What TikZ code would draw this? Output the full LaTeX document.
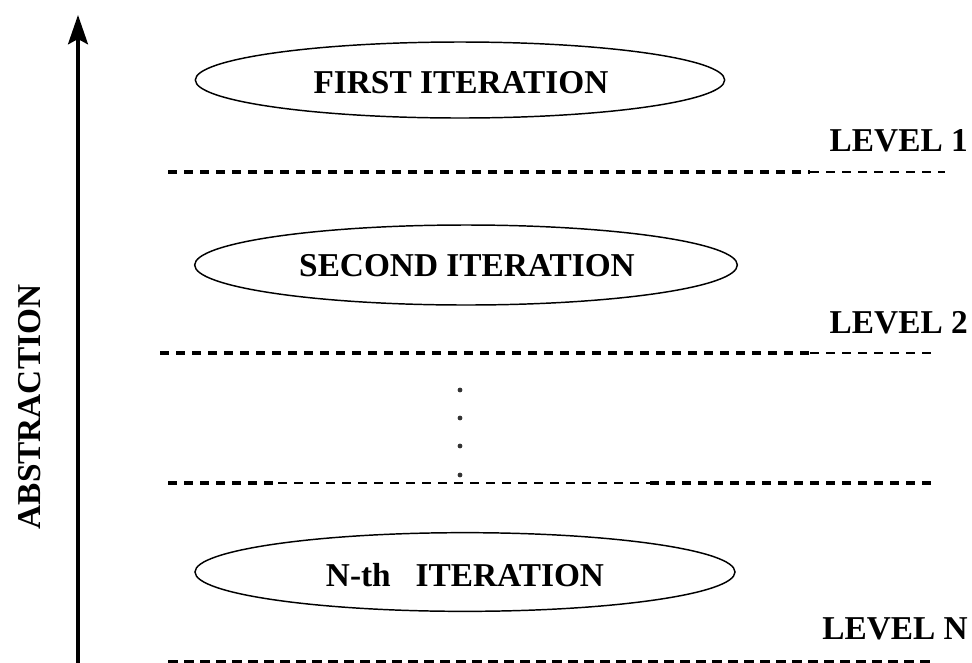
\documentclass[tikz,border=0pt]{standalone}
\usepackage{fontspec}
\setmainfont{Liberation Serif}
\usetikzlibrary{shapes.geometric,arrows.meta}
\begin{document}
\begin{tikzpicture}[x=0.75pt,y=-0.75pt,
  lbl/.style={font=\fontsize{25}{28}\selectfont\bfseries, inner sep=0pt},
  iter/.style={ellipse, draw, line width=1.1pt, inner sep=0pt},
  itext/.style={font=\fontsize{25}{28}\selectfont\bfseries, inner sep=0pt},
  heavydash/.style={line width=3.3pt, dash pattern=on 7pt off 5pt},
  lightdash/.style={line width=1.5pt, dash pattern=on 6.5pt off 5.5pt},
  bottomdash/.style={line width=2.6pt, dash pattern=on 7.5pt off 4.5pt},
  dot/.style={circle, fill=black!80, inner sep=0pt, minimum size=3.6pt}]
\useasboundingbox (0,0) rectangle (972,662);

% abstraction axis
\coordinate (axisbot) at (78,670);
\coordinate (axistop) at (78,15);
\draw[line width=2.3pt, -{Stealth[length=22pt,width=15pt,inset=4pt]}] (axisbot) -- (axistop);
\node[lbl, rotate=90] (abs) at (30,407) {ABSTRACTION};

% iterations
\node[iter, minimum width=397pt, minimum height=57pt] (it1) at (460,80) {};
\node[itext] (t1) at (461,83) {FIRST ITERATION};
\node[iter, minimum width=407pt, minimum height=60pt] (it2) at (466,265) {};
\node[itext] (t2) at (467,266) {SECOND ITERATION};
\node[iter, minimum width=405pt, minimum height=59pt] (itn) at (465,572) {};
\node[itext] (tn) at (465,575) {N-th\hspace{0.5em} ITERATION};

% level labels
\node[lbl, anchor=east] (lv1) at (968,141) {LEVEL 1};
\node[lbl, anchor=east] (lv2) at (968,323) {LEVEL 2};
\node[lbl, anchor=east] (lvn) at (968,629) {LEVEL N};

% level separators
\coordinate (a1) at (168,172); \coordinate (a2) at (810,172); \coordinate (a3) at (945,172);
\draw[heavydash] (a1) -- (a2);
\draw[lightdash] (a2) -- (a3);

\coordinate (b1) at (160,353); \coordinate (b2) at (810,353); \coordinate (b3) at (937,353);
\draw[heavydash] (b1) -- (b2);
\draw[lightdash] (b2) -- (b3);

\coordinate (c1) at (168,483); \coordinate (c2) at (278,483);
\coordinate (c3) at (650,483); \coordinate (c4) at (932,483);
\draw[heavydash] (c1) -- (c2);
\draw[lightdash] (c2) -- (c3);
\draw[heavydash] (c3) -- (c4);

\coordinate (d1) at (168,662); \coordinate (d2) at (935,662);
\draw[bottomdash] (d1) -- (d2);

% vertical ellipsis
\node[dot] (e1) at (460,390) {};
\node[dot] (e2) at (460,418) {};
\node[dot] (e3) at (460,446) {};
\node[dot] (e4) at (460,475) {};
\end{tikzpicture}
\end{document}
